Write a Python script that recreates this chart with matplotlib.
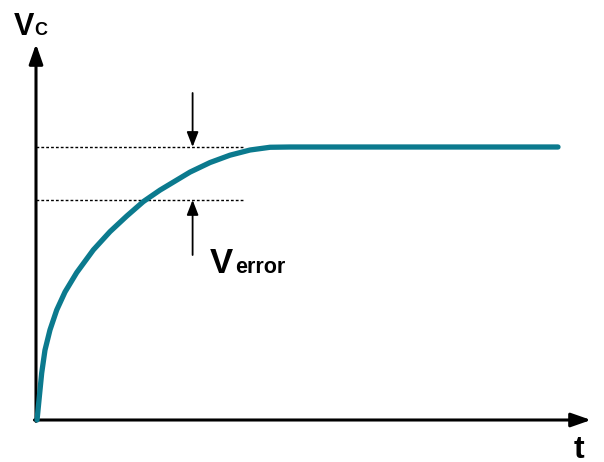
import matplotlib
matplotlib.use("Agg")
import matplotlib.pyplot as plt

# ---- data ----
t_vals = [0.02, 0.063, 0.109, 0.172, 0.268, 0.397, 0.556, 0.780, 1.098, 1.418, 1.738,
          2.056, 2.375, 2.567, 2.950, 3.333, 3.716, 4.100, 4.483, 4.866, 10.0]
v_vals = [0.0, 0.084, 0.172, 0.256, 0.330, 0.403, 0.469, 0.540, 0.623, 0.690, 0.747,
          0.800, 0.842, 0.864, 0.908, 0.943, 0.970, 0.989, 0.999, 1.0, 1.0]
v_final = 1.0
v_lower = 0.806
dotted_end = 4.0
arrow_t = 3.0
label_vc = ("V", "C")
label_err = ("V", "error")
label_t = "t"

# ---- layout ----
W, H = 604, 462
ox, oy = 36, 420          # pixel origin
sx, sy = 52.2, 273.0      # pixels per unit
fig = plt.figure(figsize=(W / 100, H / 100), dpi=100)
ax = fig.add_axes([0, 0, 1, 1])
ax.set_xlim(-ox / sx, (W - ox) / sx)
ax.set_ylim((oy - H) / sy, oy / sy)
ax.axis("off")

font = "Liberation Sans"
teal = "#0b7a8e"

# axes with arrows
ax.annotate("", xy=(0, (oy - 44) / sy), xytext=(0, -0.005),
            arrowprops=dict(arrowstyle="-|>,head_length=1.2,head_width=0.42",
                            lw=2.2, color="black", shrinkA=0, shrinkB=0))
ax.annotate("", xy=((591 - ox) / sx, 0), xytext=(-0.03, 0),
            arrowprops=dict(arrowstyle="-|>,head_length=1.2,head_width=0.42",
                            lw=2.2, color="black", shrinkA=0, shrinkB=0))

# dotted reference lines
for v in (v_final, v_lower):
    ax.plot([0, dotted_end], [v, v], color="black", lw=1.0, ls=(0, (2, 1.5)))

# curve
ax.plot(t_vals, v_vals, color=teal, lw=3.8, solid_capstyle="round",
        solid_joinstyle="round", zorder=3)

# error arrows
ax.annotate("", xy=(arrow_t, v_final), xytext=(arrow_t, (oy - 93) / sy),
            arrowprops=dict(arrowstyle="-|>,head_length=0.9,head_width=0.35",
                            lw=1.3, color="black", shrinkA=0, shrinkB=0))
ax.annotate("", xy=(arrow_t, v_lower), xytext=(arrow_t, (oy - 255) / sy),
            arrowprops=dict(arrowstyle="-|>,head_length=0.9,head_width=0.35",
                            lw=1.3, color="black", shrinkA=0, shrinkB=0))

# labels
ax.text((14 - ox) / sx, (oy - 35) / sy, label_vc[0], fontsize=22, fontweight="bold",
        family=font, ha="left", va="baseline")
ax.text((34 - ox) / sx, (oy - 35) / sy, label_vc[1], fontsize=13, fontweight="bold",
        family=font, ha="left", va="baseline")
ax.text((210 - ox) / sx, (oy - 273) / sy, label_err[0], fontsize=25, fontweight="bold",
        family=font, ha="left", va="baseline")
ax.text((235 - ox) / sx, (oy - 273) / sy, label_err[1], fontsize=15.5, fontweight="bold",
        family=font, ha="left", va="baseline")
ax.text((574 - ox) / sx, (oy - 458) / sy, label_t, fontsize=23, fontweight="bold",
        family=font, ha="left", va="baseline")

fig.savefig("out.png", dpi=100)
